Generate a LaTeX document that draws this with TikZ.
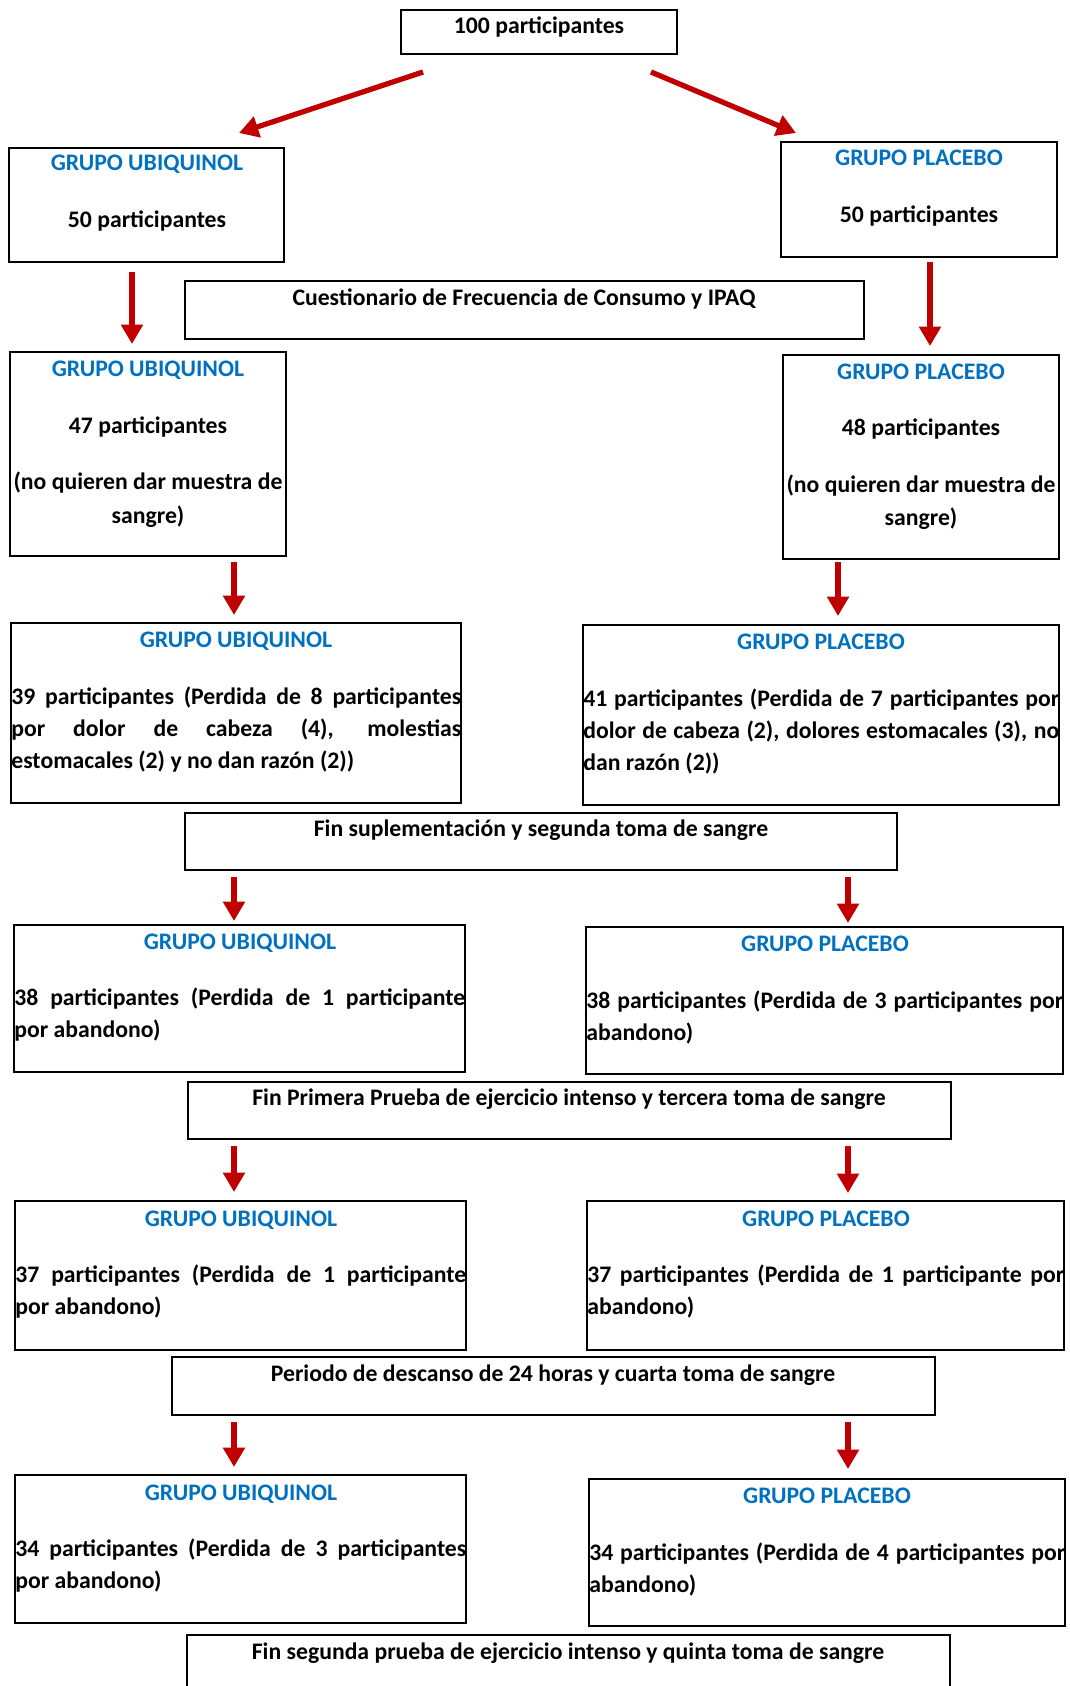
\documentclass[tikz,border=0pt]{standalone}
\usepackage{fontspec}
\setmainfont{Carlito}
\usetikzlibrary{arrows.meta,fit,calc}
\definecolor{grpblue}{RGB}{0,112,192}
\definecolor{arrred}{RGB}{192,0,0}

\begin{document}
\begin{tikzpicture}[x=0.02cm,y=-0.02cm,
	box/.style={draw,line width=0.9pt,inner sep=0pt},
	grp/.style={text=grpblue,anchor=base,inner sep=0pt},
	lbl/.style={anchor=base,inner sep=0pt},
	body/.style={anchor=base west,inner sep=0pt,align=justify,text width=#1},
	arr/.style={draw=arrred,line width=3pt,-{Triangle[length=11pt,width=12pt]}},
	font=\bfseries\fontsize{13.5}{18.4}\selectfont]

	\useasboundingbox (0,0) rectangle (1070,1686);

	%% boxes (pixel corners of the chart)
	\node[box,fit={(401,10) (677,54)}] (tot) {};
	\node[box,fit={(9,148) (284,262)}] (u1) {};
	\node[box,fit={(781,142) (1057,257)}] (p1) {};
	\node[box,fit={(185,281) (864,339)}] (cq) {};
	\node[box,fit={(10,352) (286,556)}] (u2) {};
	\node[box,fit={(783,355) (1059,559)}] (p2) {};
	\node[box,fit={(11,623) (461,803)}] (u3) {};
	\node[box,fit={(583,625) (1059,805)}] (p3) {};
	\node[box,fit={(185,813) (897,870)}] (fs) {};
	\node[box,fit={(14,925) (465,1072)}] (u4) {};
	\node[box,fit={(586,927) (1063,1074)}] (p4) {};
	\node[box,fit={(188,1082) (951,1139)}] (fp) {};
	\node[box,fit={(15,1201) (466,1350)}] (u5) {};
	\node[box,fit={(587,1201) (1064,1350)}] (p5) {};
	\node[box,fit={(172,1357) (935,1415)}] (pd) {};
	\node[box,fit={(15,1475) (466,1623)}] (u6) {};
	\node[box,fit={(589,1479) (1065,1626)}] (p6) {};
	\node[box,fit={(187,1635) (950,1700)}] (fg) {};

	%% texts
	\node[lbl] (tott) at (539,34) {100 participantes};

	\node[grp] (u1t) at (147,171) {GRUPO UBIQUINOL};
	\node[lbl] (u1b) at (147,228) {50 participantes};
	\node[grp] (p1t) at (919,166) {GRUPO PLACEBO};
	\node[lbl] (p1b) at (919,222) {50 participantes};

	\node[lbl] (cqt) at (524,305) {Cuestionario de Frecuencia de Consumo y IPAQ};

	\node[grp] (u2t) at (148,376) {GRUPO UBIQUINOL};
	\node[lbl] (u2b) at (148,433) {47 participantes};
	\node[lbl] (u2c) at (148,489) {(no quieren dar muestra de};
	\node[lbl] (u2d) at (148,523) {sangre)};
	\node[grp] (p2t) at (921,379) {GRUPO PLACEBO};
	\node[lbl] (p2b) at (921,435) {48 participantes};
	\node[lbl] (p2c) at (921,492) {(no quieren dar muestra de};
	\node[lbl] (p2d) at (921,525) {sangre)};

	\node[grp] (u3t) at (236,647) {GRUPO UBIQUINOL};
	\node[body=9cm] (u3b) at (11,704) {39 participantes (Perdida de 8 participantes\linebreak por dolor de cabeza (4), molestias\linebreak estomacales (2) y no dan razón (2))};
	\node[grp] (p3t) at (821,649) {GRUPO PLACEBO};
	\node[body=9.52cm] (p3b) at (583,706) {41 participantes (Perdida de 7 participantes por\linebreak dolor de cabeza (2), dolores estomacales (3), no\linebreak dan razón (2))};

	\node[lbl] (fst) at (541,836) {Fin suplementación y segunda toma de sangre};

	\node[grp] (u4t) at (240,949) {GRUPO UBIQUINOL};
	\node[body=9.02cm] (u4b) at (14,1005) {38 participantes (Perdida de 1 participante\linebreak por abandono)};
	\node[grp] (p4t) at (825,951) {GRUPO PLACEBO};
	\node[body=9.54cm] (p4b) at (586,1008) {38 participantes (Perdida de 3 participantes por\linebreak abandono)};

	\node[lbl] (fpt) at (569,1105) {Fin Primera Prueba de ejercicio intenso y tercera toma de sangre};

	\node[grp] (u5t) at (241,1226) {GRUPO UBIQUINOL};
	\node[body=9.02cm] (u5b) at (15,1282) {37 participantes (Perdida de 1 participante\linebreak por abandono)};
	\node[grp] (p5t) at (826,1226) {GRUPO PLACEBO};
	\node[body=9.54cm] (p5b) at (587,1282) {37 participantes (Perdida de 1 participante por\linebreak abandono)};

	\node[lbl] (pdt) at (553,1381) {Periodo de descanso de 24 horas y cuarta toma de sangre};

	\node[grp] (u6t) at (241,1500) {GRUPO UBIQUINOL};
	\node[body=9.02cm] (u6b) at (15,1556) {34 participantes (Perdida de 3 participantes\linebreak por abandono)};
	\node[grp] (p6t) at (827,1503) {GRUPO PLACEBO};
	\node[body=9.52cm] (p6b) at (589,1560) {34 participantes (Perdida de 4 participantes por\linebreak abandono)};

	\node[lbl] (fgt) at (568,1659) {Fin segunda prueba de ejercicio intenso y quinta toma de sangre};

	%% arrow ends
	\coordinate (a1s) at (423,72);   \coordinate (a1e) at (239,133);
	\coordinate (b1s) at (651,72);   \coordinate (b1e) at (796,133);
	\coordinate (a2s) at (132,272);  \coordinate (a2e) at (132,344);
	\coordinate (b2s) at (930,262);  \coordinate (b2e) at (930,346);
	\coordinate (a3s) at (234,562);  \coordinate (a3e) at (234,615);
	\coordinate (b3s) at (838,562);  \coordinate (b3e) at (838,616);
	\coordinate (a4s) at (234,877);  \coordinate (a4e) at (234,921);
	\coordinate (b4s) at (848,877);  \coordinate (b4e) at (848,923);
	\coordinate (a5s) at (234,1146); \coordinate (a5e) at (234,1192);
	\coordinate (b5s) at (848,1146); \coordinate (b5e) at (848,1193);
	\coordinate (a6s) at (234,1422); \coordinate (a6e) at (234,1467);
	\coordinate (b6s) at (848,1422); \coordinate (b6e) at (848,1469);

	\draw[arr] (a1s) -- (a1e);
	\draw[arr] (b1s) -- (b1e);
	\draw[arr] (a2s) -- (a2e);
	\draw[arr] (b2s) -- (b2e);
	\draw[arr] (a3s) -- (a3e);
	\draw[arr] (b3s) -- (b3e);
	\draw[arr] (a4s) -- (a4e);
	\draw[arr] (b4s) -- (b4e);
	\draw[arr] (a5s) -- (a5e);
	\draw[arr] (b5s) -- (b5e);
	\draw[arr] (a6s) -- (a6e);
	\draw[arr] (b6s) -- (b6e);
\end{tikzpicture}
\end{document}
